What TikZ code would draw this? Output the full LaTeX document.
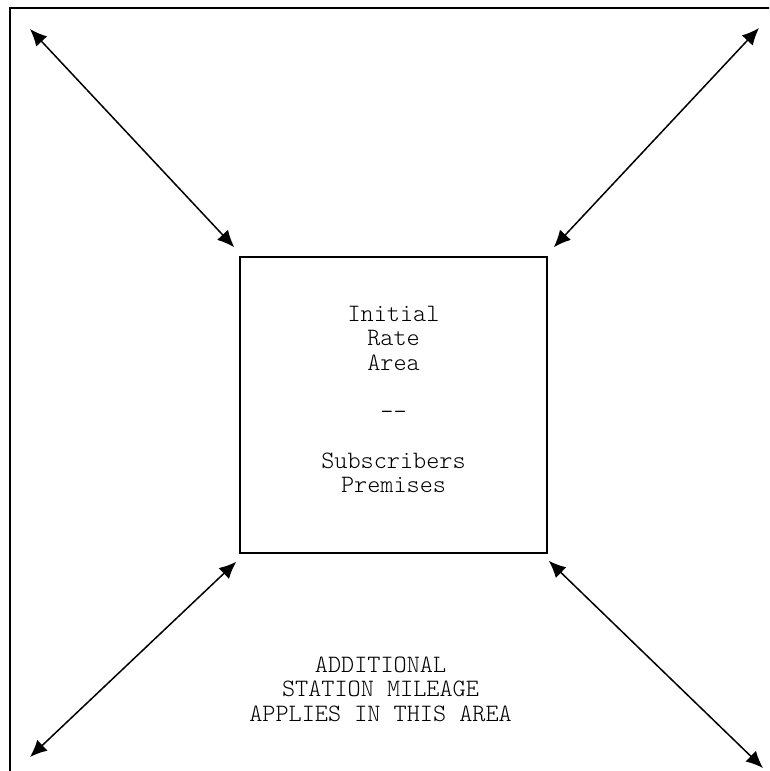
\documentclass[tikz,border=0pt]{standalone}
\usepackage{fontspec}
\newfontfamily\typewriter{Latin Modern Mono Light}
\usetikzlibrary{arrows.meta}

\begin{document}
\begin{tikzpicture}[x=1pt, y=-1pt,
    outerframe/.style={draw, line width=2pt},
    ratebox/.style={rectangle, draw, line width=1.5pt, minimum width=307pt, minimum height=296pt, inner sep=0pt},
    txt/.style={align=center, inner sep=0pt, font=\typewriter\fontsize{25}{24.5}\selectfont},
    mile/.style={{Latex[length=17pt,width=15pt]}-{Latex[length=17pt,width=15pt]}, line width=1.5pt}
]

% Cadre
\useasboundingbox (0,0) rectangle (769,771);
\clip (0,0) rectangle (769,771);
\draw[outerframe] (9.5,7.5) rectangle (800,800);

% Zone tarifaire initiale
\node[ratebox] (ira) at (393.5,405) {};
\node[txt] (iraText) at (393.5,399.5) {Initial\\Rate\\Area\\[24.5pt]-{}-\\[24.5pt]Subscribers\\Premises};

% Zone de distance supplementaire
\node[txt] (mileText) at (380.5,689) {ADDITIONAL\\STATION MILEAGE\\APPLIES IN THIS AREA};

% Coins
\coordinate (nwTip) at (30,29);
\coordinate (neTip) at (759,28);
\coordinate (swTip) at (30,757);
\coordinate (seTip) at (763,768);

% Fleches
\draw[mile] (nwTip) -- ([shift={(-5,-9)}]ira.north west);
\draw[mile] (neTip) -- ([shift={(6,-9)}]ira.north east);
\draw[mile] (swTip) -- ([shift={(-3,8)}]ira.south west);
\draw[mile] (seTip) -- ([shift={(1,7)}]ira.south east);

\end{tikzpicture}
\end{document}
